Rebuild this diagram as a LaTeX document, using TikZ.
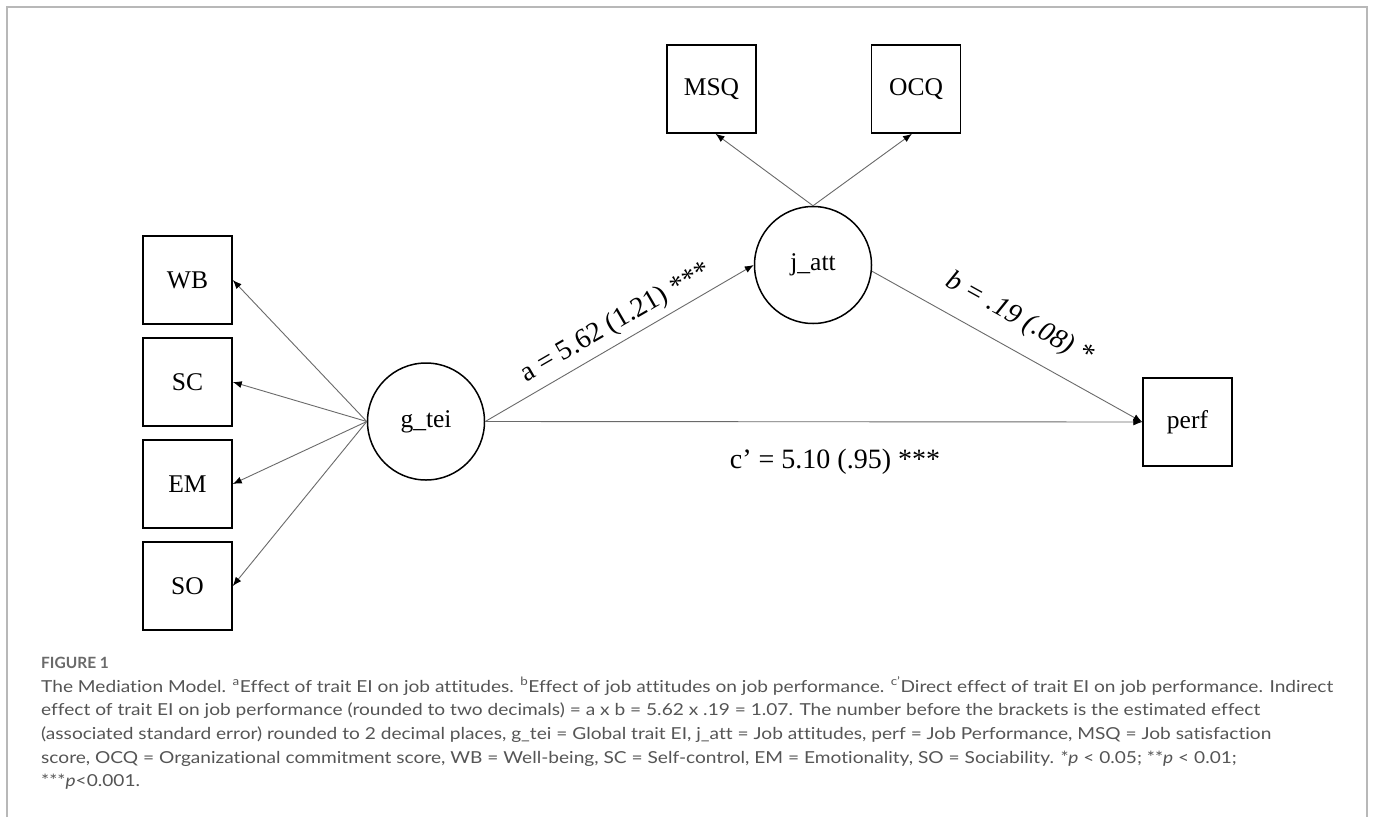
\documentclass[tikz,border=0pt]{standalone}
\usepackage{fontspec}
\usepackage{graphicx}
\setmainfont{Liberation Serif}
\newfontfamily\capfont[Ligatures={NoCommon,NoRare,NoDiscretionary}]{Lato}
\usetikzlibrary{arrows.meta}
\definecolor{capgray}{HTML}{555555}
\definecolor{figgray}{HTML}{6A6A6A}
\definecolor{linegray}{HTML}{6A6A6A}
\definecolor{framegray}{HTML}{B8B8B8}
\newlength\capWidthA
\newcommand\capLineA{The Mediation Model. \textsuperscript{a}Effect of trait EI on job attitudes. \textsuperscript{b}Effect of job attitudes on job performance. \textsuperscript{c’}Direct effect of trait EI on job performance. Indirect}
\newcommand\capLineB{effect of trait EI on job performance (rounded to two decimals) = a x b = 5.62 x .19 = 1.07. The number before the brackets is the estimated effect}
\newcommand\capLineC{(associated standard error) rounded to 2 decimal places, g\_tei = Global trait EI, j\_att = Job attitudes, perf = Job Performance, MSQ = Job satisfaction}
\newcommand\capLineD{score, OCQ = Organizational commitment score, WB = Well-being, SC = Self-control, EM = Emotionality, SO = Sociability. *\textit{p} < 0.05; **\textit{p} < 0.01;}
\newcommand\capLineE{***\textit{p}<0.001.}
\begin{document}
\settowidth{\capWidthA}{\capfont\fontsize{16.5}{20}\selectfont\capLineA}%
\pgfmathsetmacro\capScale{1292/\capWidthA}%
\begin{tikzpicture}[x=1pt,y=-1pt,
  box/.style={draw=black, line width=1.5pt, minimum width=89pt, minimum height=88pt, inner sep=0pt, font=\fontsize{25.5}{30}\selectfont},
  latent/.style={draw=black, line width=1.5pt, circle, minimum size=117pt, inner sep=0pt, font=\fontsize{25.5}{30}\selectfont},
  conn/.style={draw=linegray, line width=0.9pt, -{Latex[length=9pt,width=7pt,black]}},
  elabel/.style={font=\fontsize{28}{32}\selectfont, inner sep=0pt},
  capline/.style={anchor=base west, inner sep=0pt, text=capgray, font=\capfont\fontsize{16.5}{20}\selectfont},
  figlabel/.style={anchor=base west, inner sep=0pt, text=figgray, font=\capfont\bfseries\fontsize{15.5}{18}\selectfont}]
\useasboundingbox (0,0) rectangle (1373,817);
\fill[white] (0,0) rectangle (1373,817);
\draw[framegray, line width=1.3pt] (7,817) -- (7,7) -- (1367,7) -- (1367,817);

% nodes
\node[box] (wb) at (187.5,280) {WB};
\node[box] (sc) at (187.5,382) {SC};
\node[box] (em) at (187.5,484) {EM};
\node[box] (so) at (187.5,586) {SO};
\node[latent] (g) at (426,421.5) {g\_tei};
\node[latent] (j) at (813,265) {j\_att};
\node[box] (msq) at (711.5,89) {MSQ};
\node[box] (ocq) at (916,89) {OCQ};
\node[box] (perf) at (1187.5,422) {perf};

% connectors
\draw[conn] (g.west) -- (wb.east);
\draw[conn] (g.west) -- (sc.east);
\draw[conn] (g.west) -- (em.east);
\draw[conn] (g.west) -- (so.east);
\draw[conn] (j.north) -- ([xshift=4pt]msq.south);
\draw[conn] (j.north) -- ([xshift=-4pt]ocq.south);
\draw[conn] (g.east) -- (j.west);
\draw[conn] (j.-6) -- (perf.west);
\draw[conn] (g.east) -- (perf.west);

% edge labels
\node[elabel, rotate=30] (la) at (616,323) {a = 5.62 (1.21) ***};
\node[elabel, rotate=-29, font=\fontsize{28}{32}\selectfont\itshape] (lb) at (1019,319) {b = .19 (.08) *};
\node[elabel] (lc) at (835,462) {c’ = 5.10 (.95) ***};

% caption
\node[figlabel] (fig) at (41,668) {FIGURE 1};
\node[capline] (c1) at (41,692) {\scalebox{\capScale}[1]{\capLineA}};
\node[capline] (c2) at (41,715.7) {\scalebox{\capScale}[1]{\capLineB}};
\node[capline] (c3) at (41,739.4) {\scalebox{\capScale}[1]{\capLineC}};
\node[capline] (c4) at (41,763.1) {\scalebox{\capScale}[1]{\capLineD}};
\node[capline] (c5) at (41,786.8) {\scalebox{\capScale}[1]{\capLineE}};
\end{tikzpicture}
\end{document}
